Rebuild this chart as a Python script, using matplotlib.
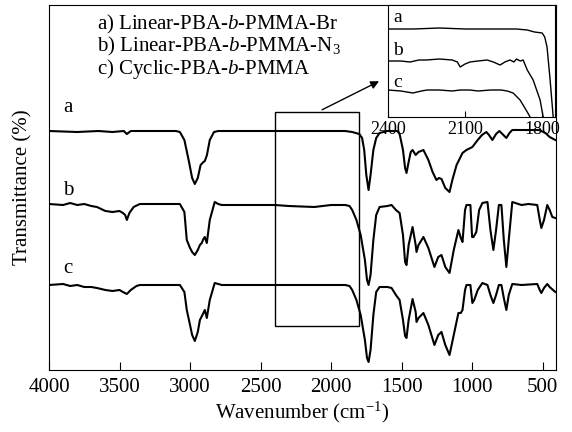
import matplotlib
matplotlib.use("Agg")
import matplotlib.pyplot as plt
from matplotlib.patches import Rectangle

plt.rcParams['font.family'] = ['Liberation Serif', 'DejaVu Serif']
plt.rcParams['mathtext.fontset'] = 'custom'
plt.rcParams['mathtext.rm'] = 'Liberation Serif'
plt.rcParams['mathtext.it'] = 'Liberation Serif:italic'

# ---- main spectra (wavenumber cm^-1, offset transmittance a.u.) ----
wn_a = [4000, 3800, 3650, 3550, 3470, 3448, 3420, 3100, 3072, 3040, 3010, 2985, 2966, 2945, 2925,
        2905, 2895, 2880, 2860, 2830, 2800, 1900, 1850, 1800, 1780, 1765, 1750, 1734, 1720, 1700,
        1680, 1656, 1600, 1530, 1514, 1490, 1475, 1465, 1450, 1435, 1422, 1400, 1380, 1345, 1310,
        1280, 1253, 1235, 1217, 1190, 1160, 1140, 1110, 1068, 1040, 998, 960, 930, 899, 880, 856,
        830, 807, 785, 757, 735, 715, 600, 524, 480, 450, 410]
T_a = [239, 238, 239, 238, 239, 236, 239, 239, 238, 230, 210, 192, 186, 192, 205,
       208, 209, 215, 230, 238, 239, 239, 238, 236, 232, 220, 195, 180, 195, 220,
       232, 237, 239, 239, 236, 220, 202, 197, 208, 218, 220, 215, 218, 220, 210,
       198, 190, 192, 191, 182, 178, 190, 205, 217, 220, 223, 230, 235, 238, 235, 230,
       236, 239, 236, 232, 237, 240, 240, 240, 237, 233, 230]

wn_b = [4000, 3900, 3850, 3800, 3750, 3700, 3660, 3600, 3550, 3500, 3476, 3460, 3448, 3430, 3400,
        3356, 3072, 3040, 3023, 3000, 2985, 2966, 2945, 2930, 2917, 2905, 2895, 2881, 2860, 2825,
        2800, 2775, 2400, 2300, 2119, 2000, 1900, 1869, 1850, 1820, 1790, 1760, 1745, 1734, 1720,
        1700, 1680, 1656, 1600, 1571, 1540, 1514, 1490, 1475, 1465, 1450, 1422, 1400, 1394, 1380,
        1345, 1310, 1267, 1240, 1217, 1190, 1160, 1130, 1097, 1080, 1068, 1050, 1040, 1012, 1000,
        990, 970, 950, 927, 891, 870, 849, 830, 810, 792, 775, 757, 740, 715, 650, 600, 538, 520,
        509, 490, 467, 450, 431, 410]
T_b = [166, 165, 167, 165, 166, 164, 163, 159, 158, 159, 157, 155, 150, 157, 163,
       166, 166, 158, 130, 122, 118, 115, 120, 125, 127, 131, 133, 127, 150, 168,
       166, 165, 165, 164, 163, 165, 165, 164, 160, 150, 135, 110, 90, 85, 95,
       130, 155, 163, 164, 165, 160, 157, 135, 108, 105, 125, 143, 125, 118, 125,
       133, 122, 103, 113, 115, 103, 97, 120, 140, 132, 128, 160, 165, 165, 133,
       133, 138, 160, 167, 168, 140, 120, 140, 165, 165, 130, 103, 130, 168, 165, 166, 165, 150,
       142, 150, 165, 160, 153, 152]

wn_c = [4000, 3900, 3850, 3800, 3750, 3700, 3660, 3600, 3550, 3500, 3476, 3448, 3420, 3380, 3356,
        3072, 3040, 3023, 3000, 2985, 2966, 2945, 2930, 2905, 2895, 2881, 2860, 2825, 2800, 2775,
        2200, 2000, 1900, 1869, 1850, 1820, 1790, 1760, 1745, 1734, 1720, 1700, 1680, 1656, 1600,
        1571, 1540, 1514, 1490, 1475, 1465, 1450, 1422, 1400, 1394, 1380, 1345, 1310, 1267, 1240,
        1217, 1190, 1160, 1130, 1097, 1080, 1068, 1050, 1040, 1012, 998, 985, 960, 927, 891, 870,
        849, 830, 810, 792, 775, 757, 740, 715, 650, 538, 520, 509, 490, 467, 450, 410]
T_c = [85, 86, 84, 85, 83, 83, 82, 80, 79, 80, 78, 76, 80, 84, 85,
       85, 78, 60, 45, 35, 29, 38, 50, 57, 60, 52, 70, 87, 86, 85,
       85, 85, 85, 84, 80, 70, 55, 30, 12, 8, 20, 55, 78, 83, 83,
       82, 75, 70, 50, 34, 32, 50, 71, 58, 48, 52, 57, 45, 25, 35,
       38, 25, 15, 35, 57, 57, 60, 80, 85, 85, 67, 70, 80, 87, 85, 75,
       67, 75, 85, 85, 72, 60, 75, 86, 85, 86, 80, 77, 82, 86, 83, 78]

# ---- inset (2400-1750 cm^-1) ----
wn_ia = [2400, 2300, 2200, 2100, 2000, 1900, 1858, 1830, 1800, 1790, 1781, 1770, 1757, 1745]
T_ia = [88, 88, 89, 88, 88, 88, 87, 85, 84, 80, 70, 40, 0, -10]
wn_ib = [2400, 2350, 2314, 2280, 2250, 2200, 2150, 2130, 2119, 2100, 2081, 2050, 2014, 1990,
         1964, 1945, 1925, 1910, 1900, 1885, 1874, 1858, 1835, 1808, 1796, 1790]
T_ib = [56, 56, 55, 57, 57, 58, 57, 55, 50, 53, 55, 56, 57, 55,
        52, 55, 57, 55, 58, 56, 57, 47, 37, 17, 0, -10]
wn_ic = [2400, 2350, 2303, 2270, 2248, 2200, 2150, 2119, 2081, 2050, 2000, 1960, 1936, 1913,
         1886, 1858, 1847, 1840]
T_ic = [27, 26, 24, 26, 27, 27, 26, 27, 27, 26, 27, 27, 26, 24, 17, 5, 0, -10]

xticks = [4000, 3500, 3000, 2500, 2000, 1500, 1000, 500]
inset_ticks = [2400, 2100, 1800]
legend_lines = ["a) Linear-PBA-$\\it{b}$-PMMA-Br",
                "b) Linear-PBA-$\\it{b}$-PMMA-N$_3$",
                "c) Cyclic-PBA-$\\it{b}$-PMMA"]

fig = plt.figure(figsize=(5.72, 4.32), dpi=100)
ax = fig.add_axes([49/572, 1-370/432, (556-49)/572, 365/432])
lw = 1.5
for w, t in ((wn_a, T_a), (wn_b, T_b), (wn_c, T_c)):
    ax.plot(w, t, color='black', lw=lw, solid_joinstyle='round')
ax.set_xlim(4000, 405)
ax.set_ylim(0, 365)
ax.set_xticks(xticks)
ax.set_yticks([])
ax.tick_params(axis='x', direction='in', length=6, labelsize=15, pad=6)
ax.set_xlabel("Wavenumber (cm$^{-1}$)", fontsize=15, labelpad=2)
ax.set_ylabel("Transmittance (%)", fontsize=15, labelpad=12)

ax.text(3901, 258, "a", fontsize=15, va='baseline')
ax.text(3901, 175, "b", fontsize=15, va='baseline')
ax.text(3901, 97, "c", fontsize=15, va='baseline')
for i, (s, yb) in enumerate(zip(legend_lines, [341, 319, 296])):
    ax.text(3660, yb, s, fontsize=15, va='baseline')

ax.add_patch(Rectangle((2400, 44), -600, 214, fill=False, lw=1.0, ec='black'))
ax.annotate("", xy=(1642, 290), xytext=(2081, 259),
            arrowprops=dict(arrowstyle='-|>', color='black', lw=1.0, mutation_scale=12))

ins = fig.add_axes([388/572, 1-117/432, (555-388)/572, 112/432])
for w, t in ((wn_ia, T_ia), (wn_ib, T_ib), (wn_ic, T_ic)):
    ins.plot(w, t, color='black', lw=1.0)
ins.set_xlim(2400, 1750)
ins.set_ylim(0, 112)
ins.set_xticks(inset_ticks)
ins.set_yticks([])
ins.tick_params(axis='x', direction='in', length=4, labelsize=13, pad=3)
ins.text(2380, 95, "a", fontsize=14, va='baseline')
ins.text(2380, 62, "b", fontsize=14, va='baseline')
ins.text(2380, 30, "c", fontsize=14, va='baseline')

fig.savefig("out.png", dpi=100)
